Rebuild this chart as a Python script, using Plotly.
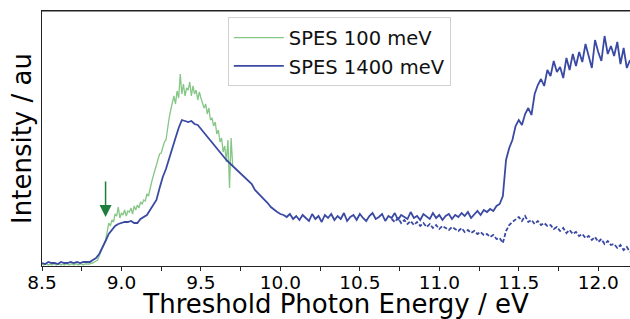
import numpy as np
import plotly.graph_objects as go

# ---------------- data (intensity in arbitrary units) ----------------
# SPES 1400 meV, sampled from 8.50 eV in 0.02 eV steps
blue_start, blue_step = 8.50, 0.02
spes1400 = [
    3, 2, 4, 3, 3, 2, 4, 3, 3, 4,
    3, 4, 3, 4, 4, 4, 6, 8, 12, 18,
    25, 32, 36, 40, 42, 43, 44, 44, 45, 43,
    43, 47, 49, 51, 56, 61, 66, 78, 89, 97,
    108, 119, 128, 138, 146, 145, 144, 145, 142, 141,
    137, 134, 130, 126, 121, 117, 114, 110, 106, 103,
    100, 96, 94, 91, 88, 84, 82, 76, 73, 69,
    66, 63, 59, 56, 54, 52, 51, 49, 52, 47,
    50, 46, 51, 48, 45, 52, 47, 50, 44, 51,
    48, 52, 46, 50, 47, 53, 45, 49, 51, 46,
    52, 48, 45, 50, 53, 47, 49, 52, 45, 50,
    48, 53, 46, 51, 49, 47, 54, 48, 50, 46,
    52, 49, 47, 53, 48, 51, 46, 50, 52, 47,
    51, 49, 53, 50, 54, 48, 52, 55, 51, 56,
    54, 57, 55, 60, 62, 70, 106, 118, 126, 140,
    146, 141, 152, 158, 151, 172, 181, 187, 180, 196,
    190, 205, 194, 199, 188, 208, 196, 212, 200, 214,
    204, 222, 210, 198, 226, 214, 205, 230, 212, 220,
    210, 224, 202, 218, 198, 206,
]

# SPES 1400 meV, second (dashed) curve, sampled from 10.70 eV in 0.02 eV steps
dash_start, dash_step = 10.70, 0.02
spes1400_b = [
    47, 44, 48, 43, 46, 42, 45, 41, 44, 40,
    43, 39, 42, 38, 41, 37, 40, 38, 36, 39,
    37, 35, 38, 34, 36, 33, 35, 32, 34, 31,
    32, 29, 31, 27, 28, 23, 35, 41, 44, 47,
    49, 45, 50, 44, 46, 42, 45, 41, 43, 40,
    41, 37, 39, 35, 38, 33, 36, 32, 34, 30,
    32, 28, 30, 26, 29, 24, 27, 22, 25, 21,
    22, 18, 21, 16, 19, 14,
]

# SPES 100 meV, sampled from 8.50 eV in 0.01 eV steps
green_start, green_step = 8.50, 0.01
spes100 = [
    2, 1, 2, 2, 1, 2, 1, 2, 2, 1,
    2, 2, 1, 2, 1, 2, 2, 1, 2, 2,
    1, 2, 2, 1, 2, 2, 1, 2, 2, 2,
    2, 3, 3, 4, 5, 6, 10, 14, 17, 20,
    26, 34, 43, 40, 46, 44, 52, 50, 59, 48,
    53, 51, 56, 50, 55, 54, 58, 52, 60, 56,
    61, 58, 64, 62, 66, 65, 72, 70, 79, 84,
    90, 96, 102, 108, 112, 113, 120, 124, 126, 138,
    148, 156, 164, 170, 162, 175, 168, 192, 172, 182,
    170, 178, 176, 184, 170, 180, 172, 176, 166, 174,
    168, 164, 158, 162, 152, 158, 146, 148, 140, 144,
    132, 136, 124, 128, 114, 120, 104, 126, 78, 128,
    100,
]

x_ticks = [8.5, 9.0, 9.5, 10.0, 10.5, 11.0, 11.5, 12.0]
x_tick_labels = ["8.5", "9.0", "9.5", "10.0", "10.5", "11.0", "11.5", "12.0"]
arrow_energy, arrow_intensity = 8.90, 49

# ---------------- figure ----------------
def grid(start, step, n):
    return np.round(start + step * np.arange(n), 3)

FONT = "DejaVu Sans"
BLUE = "#3a4aa3"
GREEN = "#86c686"
SPINE = "#222"

fig = go.Figure()
fig.add_trace(go.Scatter(
    x=grid(green_start, green_step, len(spes100)), y=spes100,
    mode="lines", name="SPES 100 meV",
    line=dict(color=GREEN, width=1.3),
))
fig.add_trace(go.Scatter(
    x=grid(blue_start, blue_step, len(spes1400)), y=spes1400,
    mode="lines", name="SPES 1400 meV",
    line=dict(color=BLUE, width=1.8),
))
fig.add_trace(go.Scatter(
    x=grid(dash_start, dash_step, len(spes1400_b)), y=spes1400_b,
    mode="lines", showlegend=False,
    line=dict(color=BLUE, width=1.8, dash="4px,2px"),
))

fig.add_annotation(
    x=arrow_energy, y=arrow_intensity, xref="x", yref="y",
    ax=0, ay=-37, axref="pixel", ayref="pixel",
    showarrow=True, arrowhead=2, arrowsize=1.6, arrowwidth=1.5,
    arrowcolor="#1c7d3c", text="",
)
# top spine of the axes box
fig.add_shape(type="line", xref="paper", yref="paper", x0=0, x1=1, y0=1, y1=1,
              line=dict(color=SPINE, width=1.2))

fig.update_layout(
    width=630, height=319,
    margin=dict(l=42, r=0, t=11, b=53, pad=0, autoexpand=False),
    plot_bgcolor="white", paper_bgcolor="white",
    font=dict(family=FONT, color="black"),
    legend=dict(
        x=0.316, y=0.975, xanchor="left", yanchor="top",
        bgcolor="white", bordercolor="#d0d0d0", borderwidth=1,
        font=dict(family=FONT, size=19.5, color="#111"),
        itemwidth=50,
    ),
    showlegend=True,
)
fig.update_xaxes(
    range=[8.5, 12.2], automargin=False,
    tickvals=x_ticks, ticktext=x_tick_labels,
    ticks="outside", ticklen=4, tickwidth=1, tickcolor=SPINE,
    ticklabelstandoff=-4,
    minor=dict(dtick=0.25, tick0=8.5, ticks="outside", ticklen=4, tickwidth=1, tickcolor=SPINE),
    showline=True, linecolor=SPINE, linewidth=1.2, mirror=True,
    showgrid=False, zeroline=False,
    tickfont=dict(family=FONT, size=18.5, color="black"),
    title=dict(text="Threshold Photon Energy / eV", font=dict(family=FONT, size=26, color="black"), standoff=2),
)
fig.update_yaxes(
    range=[0, 255], automargin=False,
    showticklabels=False, ticks="",
    showline=True, linecolor=SPINE, linewidth=1.2, mirror=False,
    showgrid=False, zeroline=False,
    title=dict(text="Intensity / au", font=dict(family=FONT, size=26, color="black"), standoff=1),
)

fig.write_html(
    "out.html",
    config={"displayModeBar": False},
    post_script="document.body.style.margin='0';document.body.style.padding='0';",
)
